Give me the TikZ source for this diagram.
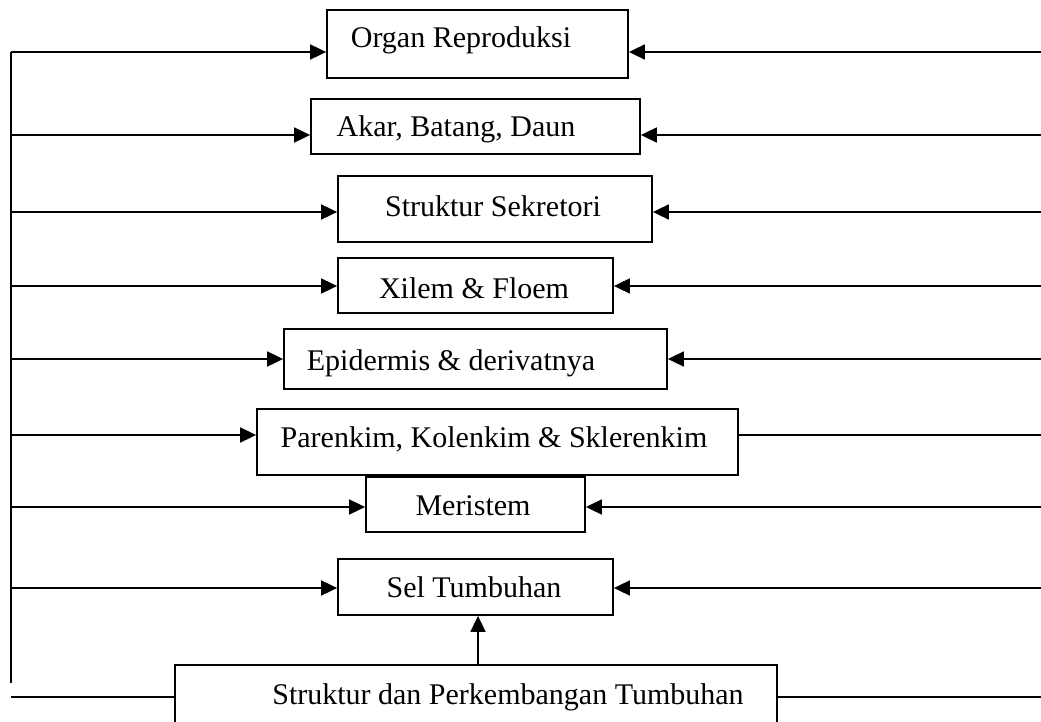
\documentclass[tikz,border=0pt]{standalone}
\usepackage{fontspec}
\setmainfont{Liberation Serif}
\usetikzlibrary{arrows.meta}
\begin{document}
\begin{tikzpicture}[x=1pt,y=-1pt,
  box/.style={draw, line width=1.8pt, rectangle, inner sep=0pt},
  txt/.style={anchor=base, inner sep=0pt, font=\fontsize{30}{36}\selectfont},
  conn/.style={line width=1.8pt},
  arr/.style={line width=1.8pt, -{Triangle[length=16pt,width=15pt]}}]
\clip (0,0) rectangle (1041,722);
\fill[white] (0,0) rectangle (1041,722);
% boxes: (left,top) rectangle (right,bottom)
\newcommand{\mybox}[5]{\node[box, minimum width=#4-#2, minimum height=#5-#3] (#1) at ({(#2+#4)/2},{(#3+#5)/2}) {};}
\mybox{b1}{327}{10}{628}{78}
\mybox{b2}{311}{99}{640}{154}
\mybox{b3}{338}{176}{652}{242}
\mybox{b4}{338}{258}{613}{313}
\mybox{b5}{284}{329}{667}{389}
\mybox{b6}{257}{409}{738}{475}
\mybox{b7}{366}{477}{585}{532}
\mybox{b8}{338}{559}{613}{615}
\mybox{b9}{175}{665}{777}{760}
% texts
\node[txt] (t1) at (461,48) {Organ Reproduksi};
\node[txt] (t2) at (456,137) {Akar, Batang, Daun};
\node[txt] (t3) at (493,217) {Struktur Sekretori};
\node[txt] (t4) at (474,298) {Xilem \& Floem};
\node[txt] (t5) at (451,370) {Epidermis \& derivatnya};
\node[txt] (t6) at (494,447) {Parenkim, Kolenkim \& Sklerenkim};
\node[txt] (t7) at (473,515) {Meristem};
\node[txt] (t8) at (474,597) {Sel Tumbuhan};
\node[txt] (t9) at (508,704) {Struktur dan Perkembangan Tumbuhan};
% free ends
\coordinate (L1) at (11,52);   \coordinate (R1) at (1045,52);
\coordinate (L2) at (11,135);  \coordinate (R2) at (1045,135);
\coordinate (L3) at (11,212);  \coordinate (R3) at (1045,212);
\coordinate (L4) at (11,286);  \coordinate (R4) at (1045,286);
\coordinate (L5) at (11,359);  \coordinate (R5) at (1045,359);
\coordinate (L6) at (11,435);  \coordinate (R6) at (1045,435);
\coordinate (L7) at (11,507);  \coordinate (R7) at (1045,507);
\coordinate (L8) at (11,588);  \coordinate (R8) at (1045,588);
\coordinate (L9) at (11,697);  \coordinate (R9) at (1045,697);
\coordinate (Lend) at (11,683);
% left trunk
\draw[conn] (L1) -- (Lend);
\foreach \i in {1,...,8} {
  \draw[arr] (L\i) -- (L\i -| b\i.west);
}
\foreach \i in {1,2,3,4,5,7,8} {
  \draw[arr] (R\i) -- (R\i -| b\i.east);
}
\draw[conn] (R6) -- (R6 -| b6.east);
\draw[conn] (L9) -- (L9 -| b9.west);
\draw[conn] (R9) -- (R9 -| b9.east);
\draw[arr] (b9.north -| 478,0) -- (b8.south -| 478,0);
\end{tikzpicture}
\end{document}
